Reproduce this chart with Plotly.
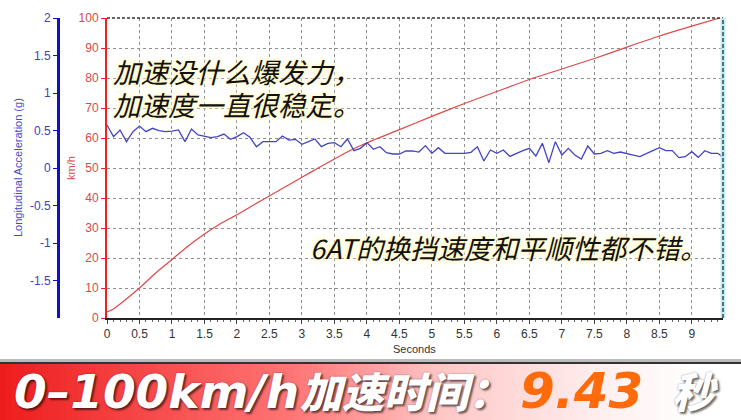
import plotly.graph_objects as go

# ---------------- data ----------------
speed_t = [0.0, 0.1, 0.25, 0.5, 0.75, 1.0, 1.25, 1.5, 1.75, 2.0, 2.25, 2.5, 2.75, 3.0, 3.25,
           3.5, 3.75, 4.0, 4.5, 5.0, 5.5, 6.0, 6.5, 7.0, 7.5, 8.0, 8.5, 9.0, 9.43]
speed_kmh = [2.0, 3.0, 5.5, 10.0, 15.0, 19.5, 24.0, 28.0, 31.5, 34.4, 37.6, 40.7, 43.8, 46.9, 50.0,
             53.0, 55.9, 58.4, 62.8, 67.2, 71.5, 75.5, 79.5, 83.0, 86.5, 90.3, 94.0, 97.3, 100.0]

accel_t = [0.0, 0.1, 0.2, 0.3, 0.4, 0.5, 0.6, 0.7, 0.8, 0.9, 1.0, 1.1, 1.2, 1.3, 1.4, 1.5, 1.6, 1.7,
           1.8, 1.9, 2.0, 2.1, 2.2, 2.3, 2.4, 2.5, 2.6, 2.7, 2.8, 2.9, 3.0, 3.1, 3.2, 3.3, 3.4, 3.5,
           3.6, 3.7, 3.8, 3.9, 4.0, 4.1, 4.2, 4.3, 4.4, 4.5, 4.6, 4.7, 4.8, 4.9, 5.0, 5.1, 5.2, 5.3,
           5.4, 5.5, 5.6, 5.7, 5.8, 5.9, 6.0, 6.1, 6.2, 6.3, 6.4, 6.5, 6.6, 6.7, 6.8, 6.9, 7.0, 7.1,
           7.2, 7.3, 7.4, 7.5, 7.6, 7.7, 7.8, 7.9, 8.0, 8.1, 8.2, 8.3, 8.4, 8.5, 8.6, 8.7, 8.8, 8.9,
           9.0, 9.1, 9.2, 9.3, 9.4, 9.47]
accel_g = [0.573, 0.418, 0.507, 0.351, 0.484, 0.560, 0.484, 0.529, 0.498, 0.484, 0.493, 0.507,
           0.351, 0.520, 0.440, 0.418, 0.404, 0.418, 0.453, 0.382, 0.418, 0.471, 0.409, 0.284,
           0.351, 0.351, 0.351, 0.427, 0.373, 0.382, 0.316, 0.351, 0.387, 0.284, 0.329, 0.338,
           0.284, 0.387, 0.231, 0.262, 0.338, 0.249, 0.284, 0.204, 0.187, 0.187, 0.227, 0.227,
           0.213, 0.298, 0.196, 0.271, 0.196, 0.196, 0.196, 0.196, 0.209, 0.284, 0.093, 0.240,
           0.196, 0.240, 0.155, 0.196, 0.231, 0.262, 0.160, 0.329, 0.071, 0.351, 0.173, 0.262,
           0.173, 0.120, 0.293, 0.187, 0.196, 0.231, 0.196, 0.213, 0.196, 0.173, 0.151, 0.196,
           0.231, 0.271, 0.231, 0.231, 0.138, 0.151, 0.218, 0.142, 0.231, 0.196, 0.196, 0.151]

x_tickvals = [0, 0.5, 1, 1.5, 2, 2.5, 3, 3.5, 4, 4.5, 5, 5.5, 6, 6.5, 7, 7.5, 8, 8.5, 9]
x_ticktext = ["0", "0.5", "1", "1.5", "2", "2.5", "3", "3.5", "4", "4.5", "5", "5.5", "6",
              "6.5", "7", "7.5", "8", "8.5", "9"]
kmh_tickvals = [0, 10, 20, 30, 40, 50, 60, 70, 80, 90, 100]
g_tickvals = [2, 1.5, 1, 0.5, 0, -0.5, -1, -1.5]
g_ticktext = ["2", "1.5", "1", "0.5", "0", "-0.5", "-1", "-1.5"]

note1 = "加速没什么爆发力，"
note2 = "加速度一直很稳定。"
note3 = "6AT的换挡速度和平顺性都不错。"
banner_a = "0–100km/h"
banner_b = "加速时间："
banner_c = "9.43"
banner_d = "秒"

# ---------------- layout helpers ----------------
W, H = 741, 420
ML, MR, MT, MB = 50, 18, 18, 102
PW, PH = W - ML - MR, H - MT - MB


def px(x):
    return (x - ML) / PW


def py(y):
    return (H - MB - y) / PH


RED = "#e04848"
BLUE = "#4444c4"

fig = go.Figure()
fig.add_trace(go.Scatter(x=accel_t, y=accel_g, yaxis="y2", mode="lines",
                         line=dict(color=BLUE, width=1.3), hoverinfo="skip"))
fig.add_trace(go.Scatter(x=speed_t, y=speed_kmh, yaxis="y", mode="lines",
                         line=dict(color=RED, width=1.2, shape="spline", smoothing=0.6),
                         hoverinfo="skip"))

tickfont = dict(family="Liberation Sans, Arial, sans-serif", size=12)

fig.update_layout(
    width=W, height=H,
    margin=dict(l=ML, r=MR, t=MT, b=MB),
    paper_bgcolor="white", plot_bgcolor="white",
    showlegend=False,
    xaxis=dict(domain=[px(107), 1], range=[0, 9.48], tickvals=x_tickvals, ticktext=x_ticktext,
               showgrid=True, gridcolor="#8f8f8f", griddash="3px,3px", gridwidth=1,
               showline=True, linecolor="#222", linewidth=2, zeroline=False,
               ticks="outside", ticklen=4, tickcolor="#444",
               minor=dict(dtick=0.1, ticks="outside", ticklen=2, tickcolor="#666", showgrid=False),
               tickfont=dict(tickfont, color="#333")),
    yaxis=dict(range=[0, 100], tickvals=kmh_tickvals, anchor="x", side="left",
               showgrid=True, gridcolor="#8f8f8f", griddash="3px,3px", gridwidth=1,
               showline=True, linecolor="#ee2020", linewidth=2, zeroline=False,
               ticks="outside", ticklen=4, tickcolor="#ee2020",
               tickfont=dict(tickfont, color="#d84a4a")),
    yaxis2=dict(range=[-2, 2], tickvals=g_tickvals, ticktext=g_ticktext, overlaying="y",
                anchor="free", position=px(58), side="left",
                showgrid=False, zeroline=False, showline=True, linecolor="#1010c8", linewidth=3,
                ticks="outside", ticklen=4, tickcolor="#1010c8",
                tickfont=dict(tickfont, color="#4040c0")),
)

shapes = []
# top dashed border and right dashed border
shapes.append(dict(type="line", xref="paper", yref="paper", x0=px(107), x1=1, y0=1, y1=1,
                   line=dict(color="#333", width=1.5, dash="3px,2px")))
shapes.append(dict(type="line", xref="paper", yref="paper", x0=1, x1=1, y0=0, y1=1,
                   line=dict(color="rgba(170,235,245,0.8)", width=5)))
shapes.append(dict(type="line", xref="paper", yref="paper", x0=1, x1=1, y0=0, y1=1,
                   line=dict(color="#444", width=1.5, dash="4px,2px")))

# banner gradient (style only)
stops = [(0, (238, 28, 28)), (300, (255, 120, 120)), (440, (255, 198, 198)),
         (600, (255, 238, 238)), (700, (255, 255, 255)), (741, (255, 255, 255))]


def grad(x):
    for (x0, c0), (x1, c1) in zip(stops[:-1], stops[1:]):
        if x0 <= x <= x1:
            f = (x - x0) / (x1 - x0)
            return "rgb(%d,%d,%d)" % tuple(round(a + (b - a) * f) for a, b in zip(c0, c1))
    return "white"


STEP = 6
for xs in range(0, W, STEP):
    shapes.append(dict(type="rect", xref="paper", yref="paper", x0=px(xs), x1=px(xs + STEP + 1),
                       y0=py(H + 2), y1=py(363), fillcolor=grad(xs + STEP / 2),
                       line=dict(width=0), layer="above"))
shapes.append(dict(type="line", xref="paper", yref="paper", x0=px(0), x1=px(W), y0=py(360.5), y1=py(360.5),
                   line=dict(color="rgba(120,120,120,0.5)", width=3), layer="above"))
shapes.append(dict(type="line", xref="paper", yref="paper", x0=px(0), x1=px(W), y0=py(363), y1=py(363),
                   line=dict(color="#333", width=2), layer="above"))
fig.update_layout(shapes=shapes)

ann = []
ann.append(dict(text="Longitudinal Acceleration (g)", xref="paper", yref="paper", x=px(18), y=py(168),
                xanchor="center", yanchor="middle",
                textangle=-90, showarrow=False, font=dict(family="Liberation Sans, Arial", size=11, color="#4848c8")))
ann.append(dict(text="km/h", xref="paper", yref="paper", x=px(71), y=py(168),
                xanchor="center", yanchor="middle",
                textangle=-90, showarrow=False, font=dict(family="Liberation Sans, Arial", size=11, color="#d84a4a")))
ann.append(dict(text="Seconds", xref="paper", yref="paper", x=px(414), y=py(349),
                xanchor="center", yanchor="middle",
                showarrow=False, font=dict(family="Liberation Sans, Arial", size=11, color="#333")))

glow = "0 0 3px #fff6b8, 0 0 6px #fff6b8, 0 0 9px #fffbd8"
note_font = dict(family="Noto Sans CJK SC", size=27.5, color="#111", style="italic", shadow=glow)
ann.append(dict(text=note1, xref="paper", yref="paper", x=px(112), y=py(71), xanchor="left",
                yanchor="middle", showarrow=False, borderpad=0, font=note_font))
ann.append(dict(text=note2, xref="paper", yref="paper", x=px(112), y=py(104), xanchor="left",
                yanchor="middle", showarrow=False, borderpad=0, font=note_font))
ann.append(dict(text=note3, xref="paper", yref="paper", x=px(308), y=py(247), xanchor="left",
                yanchor="middle", showarrow=False, font=dict(note_font, size=27)))

bshadow = "2px 2px 2px rgba(0,0,0,0.55), 0 0 2px rgba(0,0,0,0.4)"
ann.append(dict(text=banner_a, xref="paper", yref="paper", x=px(12), y=py(391), xanchor="left",
                yanchor="middle", showarrow=False,
                font=dict(family="DejaVu Sans", size=47, color="white", weight="bold",
                          style="italic", shadow=bshadow)))
ann.append(dict(text=banner_b, xref="paper", yref="paper", x=px(298), y=py(389), xanchor="left",
                yanchor="middle", showarrow=False,
                font=dict(family="Noto Sans CJK SC", size=42, color="white", weight=900,
                          style="italic", shadow=bshadow)))
ann.append(dict(text=banner_c, xref="paper", yref="paper", x=px(518), y=py(391), xanchor="left",
                yanchor="middle", showarrow=False,
                font=dict(family="DejaVu Sans", size=50, color="#ff6a0a", weight="bold",
                          style="italic")))
ann.append(dict(text=banner_d, xref="paper", yref="paper", x=px(670), y=py(389), xanchor="left",
                yanchor="middle", showarrow=False,
                font=dict(family="Noto Sans CJK SC", size=42, color="white", weight=900,
                          style="italic", shadow=bshadow)))
fig.update_layout(annotations=ann)

fig.write_html("out.html", config={"displayModeBar": False},
               post_script="document.body.style.margin='0';document.body.style.overflow='hidden';")
